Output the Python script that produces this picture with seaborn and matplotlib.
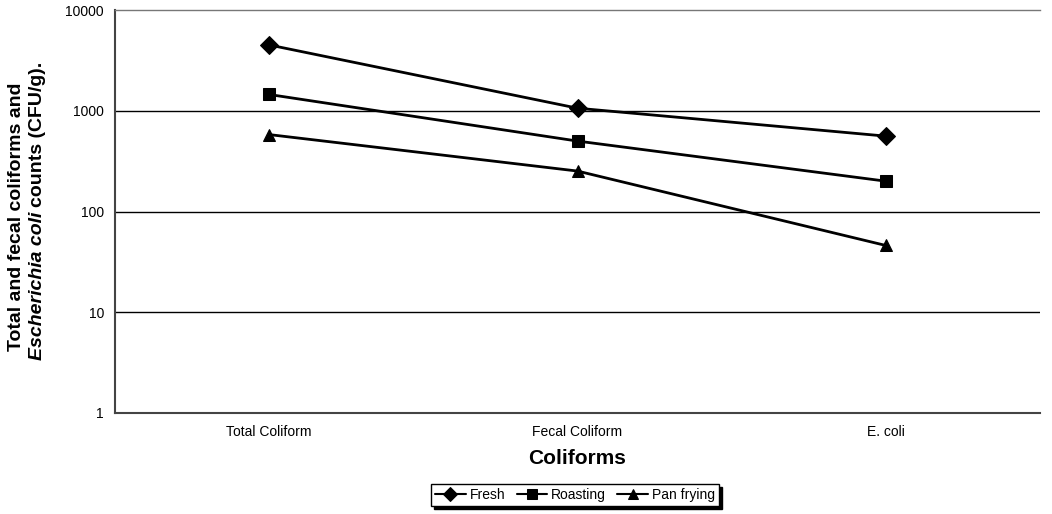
import matplotlib
matplotlib.use("Agg")
import matplotlib.pyplot as plt
import pandas as pd
import seaborn as sns

# data
categories = ["Total Coliform", "Fecal Coliform", "E. coli"]
fresh = [4500, 1060, 560]
roasting = [1450, 500, 200]
pan_frying = [580, 252, 46]
series_names = ["Fresh", "Roasting", "Pan frying"]
y_ticks = [1, 10, 100, 1000, 10000]


def build_frame():
    rows = []
    for name, vals in zip(series_names, [fresh, roasting, pan_frying]):
        for i, v in enumerate(vals):
            rows.append({"pos": i, "Coliform": categories[i], "count": v, "Treatment": name})
    return pd.DataFrame(rows)


def main():
    sns.set_style("white")
    plt.rcParams['font.family'] = ['Liberation Sans', 'DejaVu Sans']
    plt.rcParams['text.color'] = 'black'
    plt.rcParams['axes.labelcolor'] = 'black'

    df = build_frame()
    fig = plt.figure(figsize=(10.52, 5.14), dpi=100)
    ax = fig.add_axes([115 / 1052, 1 - 413 / 514, 925 / 1052, 403 / 514])

    sns.lineplot(data=df, x="pos", y="count", hue="Treatment", style="Treatment",
                 hue_order=series_names, style_order=series_names,
                 palette=["black"] * 3, markers={"Fresh": "D", "Roasting": "s", "Pan frying": "^"},
                 dashes=False, markersize=9, linewidth=2, markeredgecolor="black",
                 legend=True, ax=ax)

    ax.set_yscale("log")
    ax.set_ylim(1, 10000)
    ax.set_xlim(-0.5, 2.5)
    ax.set_yticks(y_ticks)
    ax.set_yticklabels([str(t) for t in y_ticks])
    ax.yaxis.set_minor_locator(matplotlib.ticker.NullLocator())
    ax.set_xticks(range(len(categories)))
    ax.set_xticklabels(categories)
    ax.set_xticks([-0.5, 0.5, 1.5, 2.5], minor=True)
    ax.tick_params(axis="x", which="major", length=0, labelsize=10, pad=9, colors="black")
    ax.tick_params(axis="x", which="minor", length=5, width=1, direction="out", color="#444444")
    ax.tick_params(axis="y", which="major", length=5, width=1, direction="out",
                   color="#444444", labelsize=10, labelcolor="black", pad=3)
    ax.grid(False)
    for y in y_ticks[1:-1]:
        ax.axhline(y, color="black", lw=1, zorder=0)

    for side in ["left", "bottom"]:
        ax.spines[side].set_color("#444444")
        ax.spines[side].set_linewidth(1.5)
    ax.spines["top"].set_color("#777777")
    ax.spines["top"].set_linewidth(1)
    ax.spines["right"].set_visible(False)

    ax.set_xlabel("Coliforms", fontsize=15, fontweight="bold", labelpad=7)
    ax.set_ylabel("")

    handles, labels = ax.get_legend_handles_labels()
    ax.legend(handles, labels, loc="center", bbox_to_anchor=(575 / 1052, 1 - 495 / 514),
              bbox_transform=fig.transFigure, ncol=3, frameon=True, fontsize=10,
              handlelength=2.2, handletextpad=0.3, columnspacing=0.8, borderpad=0.3,
              fancybox=False, edgecolor="black", framealpha=1,
              shadow={"color": "black", "alpha": 1, "ox": 2, "oy": -2})
    leg = ax.get_legend()
    leg.get_frame().set_linewidth(1)
    for h in leg.legend_handles:
        h.set_markersize(7)
        h.set_linewidth(1.5)

    # y label: two lines, second line partly italic
    fig.text(17 / 1052, 1 - 217 / 514, "Total and fecal coliforms and", rotation=90,
             fontsize=14, fontweight="bold", ha="center", va="center")
    fig.canvas.draw()
    renderer = fig.canvas.get_renderer()
    x2 = 38 / 1052
    t_a = fig.text(x2, 0, "Escherichia coli ", rotation=90, fontsize=14, fontweight="bold",
                   fontstyle="italic", ha="center", va="bottom")
    t_b = fig.text(x2, 0, "counts (CFU/g).", rotation=90, fontsize=14, fontweight="bold",
                   ha="center", va="bottom")
    h_a = t_a.get_window_extent(renderer).height / fig.bbox.height
    h_b = t_b.get_window_extent(renderer).height / fig.bbox.height
    y0 = 1 - 211 / 514 - (h_a + h_b) / 2
    t_a.set_y(y0)
    t_b.set_y(y0 + h_a)

    fig.savefig("out.png", dpi=100)
    plt.close(fig)


if __name__ == '__main__':
    main()
